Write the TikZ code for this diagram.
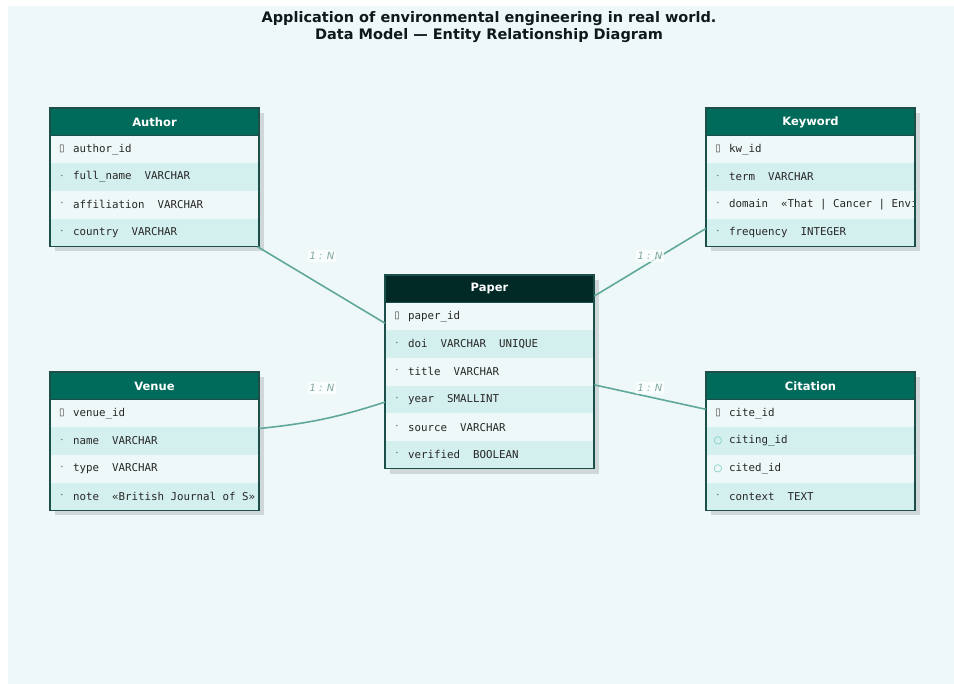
\documentclass[tikz,border=0pt]{standalone}
\usepackage{fontspec}
\setmainfont{DejaVu Sans}
\newfontfamily\monof{DejaVu Sans Mono}
\newfontfamily\symf{DejaVu Sans}
\definecolor{bgc}{HTML}{EEF8F9}
\definecolor{rowa}{HTML}{EEF8F8}
\definecolor{rowb}{HTML}{D4F0EE}
\definecolor{headc}{HTML}{006B5B}
\definecolor{headdark}{HTML}{012A27}
\definecolor{borderc}{HTML}{1D4F4A}
\definecolor{linec}{HTML}{5FA89B}
\definecolor{labc}{HTML}{7FA6A1}
\definecolor{keyc}{HTML}{444444}
\definecolor{fkc}{HTML}{5CC2B5}
\definecolor{dotc}{HTML}{555555}
\definecolor{titlec}{HTML}{0D1A19}
\tikzset{
  entitybox/.style={draw=none, minimum width=209pt, inner sep=0pt, anchor=north west},
  headtext/.style={text=white, font=\fontsize{11.5}{13}\selectfont\bfseries},
  fieldtext/.style={anchor=west, inner sep=0pt, text=black!85, font=\monof\fontsize{10.8}{12}\selectfont},
  icontext/.style={inner sep=0pt, font=\symf\fontsize{10}{12}\selectfont},
  relline/.style={draw=linec, line width=1.6pt},
  rellabel/.style={text=labc, font=\fontsize{10}{12}\selectfont\itshape, fill=white, fill opacity=0.75, text opacity=1, inner sep=2pt},
  shadowbox/.style={fill=black, fill opacity=0.13},
}
% #1 name, #2 left, #3 top, #4 nrows, #5 title, #6 header colour, #7 rows
\newcommand\erbox[7]{%
  \fill[shadowbox] (#2+5,#3+5) rectangle (#2+214,{#3+5+27.5+#4*27.7});
  \node[entitybox, minimum height={(27.5+#4*27.7)*1pt}] (#1) at (#2,#3) {};
  \fill[#6] (#2,#3) rectangle (#2+209,#3+27.5);
  \node[headtext] at (#2+104.5,#3+14) {#5};
  \begin{scope}
    \clip (#2,#3+27.5) rectangle (#2+209,{#3+27.5+#4*27.7});
    \foreach \ic/\tx [count=\i] in {#7} {
      \pgfmathparse{int(mod(\i,2))}
      \ifnum\pgfmathresult=1 \def\rc{rowa}\else\def\rc{rowb}\fi
      \fill[\rc] (#2,{#3+27.5+(\i-1)*27.7}) rectangle (#2+209,{#3+27.5+\i*27.7});
      \node[icontext] at (#2+12,{#3+27.5+(\i-0.5)*27.7}) {\ic};
      \node[fieldtext] at (#2+23,{#3+27.5+(\i-0.5)*27.7}) {\tx};
    }
  \end{scope}
  \draw[borderc, line width=1.3pt] (#2,#3) rectangle (#2+209,{#3+27.5+#4*27.7});
  \draw[borderc, line width=1pt] (#2,#3+27.5) -- (#2+209,#3+27.5);
}
\newcommand\pk{\textcolor{keyc}{▯}}
\newcommand\fk{\textcolor{fkc}{○}}
\newcommand\fd{\textcolor{dotc}{·}}
\begin{document}
\begin{tikzpicture}[x=1pt,y=-1pt]
\useasboundingbox (0,0) rectangle (954,684);
\fill[bgc] (8,6) rectangle (954,684);
\node[text=titlec, font=\fontsize{14.5}{17}\selectfont\bfseries, align=center] (title) at (489,27.5)
  {Application of environmental engineering in real world.\\Data Model — Entity Relationship Diagram};

\erbox{author}{50}{108}{4}{Author}{headc}{\pk/author\_id, \fd/full\_name\ \ VARCHAR, \fd/affiliation\ \ VARCHAR, \fd/country\ \ VARCHAR}
\erbox{keyword}{706}{108}{4}{Keyword}{headc}{\pk/kw\_id, \fd/term\ \ VARCHAR, \fd/domain\ \ «That | Cancer | Envir, \fd/frequency\ \ INTEGER}
\erbox{paper}{385}{275}{6}{Paper}{headdark}{\pk/paper\_id, \fd/doi\ \ VARCHAR\ \ UNIQUE, \fd/title\ \ VARCHAR, \fd/year\ \ SMALLINT, \fd/source\ \ VARCHAR, \fd/verified\ \ BOOLEAN}
\erbox{venue}{50}{372}{4}{Venue}{headc}{\pk/venue\_id, \fd/name\ \ VARCHAR, \fd/type\ \ VARCHAR, \fd/note\ \ «British Journal of S»}
\erbox{citation}{706}{372}{4}{Citation}{headc}{\pk/cite\_id, \fk/citing\_id, \fk/cited\_id, \fd/context\ \ TEXT}

\draw[relline] (author.-34) -- (paper.155);
\draw[relline] (venue.7) to[bend right=6] (paper.196);
\draw[relline] (keyword.206) -- (paper.36);
\draw[relline] (citation.163) -- (paper.-7);

\node[rellabel] (l1) at (322,256) {1 : N};
\node[rellabel] (l2) at (322,388) {1 : N};
\node[rellabel] (l3) at (650,256) {1 : N};
\node[rellabel] (l4) at (650,388) {1 : N};
\end{tikzpicture}
\end{document}
